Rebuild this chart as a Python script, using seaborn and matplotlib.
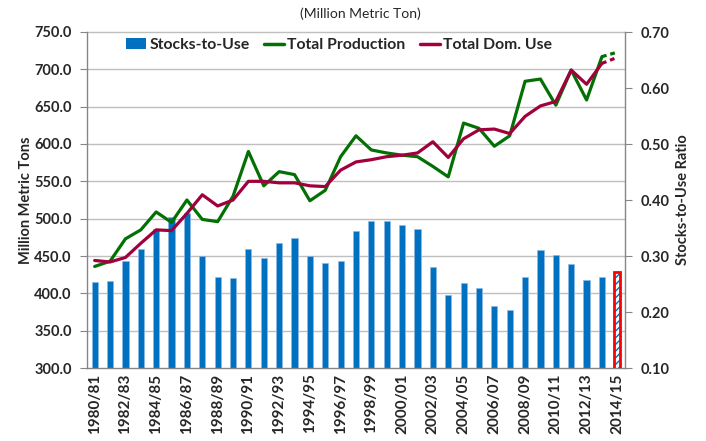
import matplotlib
matplotlib.use("Agg")
import matplotlib.pyplot as plt
import seaborn as sns
import numpy as np
from matplotlib.patches import Patch, Rectangle
from matplotlib.lines import Line2D

seasons = ["1980/81", "1981/82", "1982/83", "1983/84", "1984/85", "1985/86", "1986/87",
           "1987/88", "1988/89", "1989/90", "1990/91", "1991/92", "1992/93", "1993/94",
           "1994/95", "1995/96", "1996/97", "1997/98", "1998/99", "1999/00", "2000/01",
           "2001/02", "2002/03", "2003/04", "2004/05", "2005/06", "2006/07", "2007/08",
           "2008/09", "2009/10", "2010/11", "2011/12", "2012/13", "2013/14", "2014/15"]
stocks_to_use = [0.254, 0.255, 0.291, 0.312, 0.348, 0.369, 0.377, 0.300, 0.262, 0.260,
                 0.312, 0.296, 0.324, 0.333, 0.300, 0.287, 0.291, 0.344, 0.362, 0.362,
                 0.356, 0.348, 0.280, 0.230, 0.252, 0.243, 0.210, 0.203, 0.262, 0.311,
                 0.302, 0.285, 0.258, 0.263, 0.271]
production = [436, 443, 473, 485, 509, 495, 525, 499, 496, 530, 590, 544, 563, 559, 524,
              538, 583, 611, 592, 588, 585, 583, 570, 556, 628, 621, 597, 611, 684, 687,
              652, 699, 659, 717, 723]
domestic_use = [444, 442, 448, 467, 485, 484, 507, 532, 517, 525, 550, 550, 548, 548, 544,
                543, 565, 576, 579, 583, 585, 588, 603, 582, 607, 619, 620, 614, 637, 651,
                657, 699, 680, 708, 716]
left_ticks = [300, 350, 400, 450, 500, 550, 600, 650, 700, 750]
right_ticks = [0.10, 0.20, 0.30, 0.40, 0.50, 0.60, 0.70]

BLUE = "#0070C0"
GREEN = "#037003"
MAROON = "#A0003C"
GRID = "#BFBFBF"
SPINE = "#868686"

sns.set_style("white")
plt.rcParams["font.family"] = ["Lato", "DejaVu Sans"]

fig = plt.figure(figsize=(7.06, 4.41), dpi=100)
axb = fig.add_axes([87 / 706, 1 - 368 / 441, (625 - 87) / 706, 336 / 441])
axl = axb.twinx()

# gridlines (left-axis values) drawn on bar axes so bars cover them
lmin, lmax = left_ticks[0], left_ticks[-1]
rmin, rmax = right_ticks[0], right_ticks[-1]
def to_ratio(v):
    return rmin + (v - lmin) / (lmax - lmin) * (rmax - rmin)
for v in left_ticks[1:]:
    axb.axhline(to_ratio(v), color=GRID, lw=1.0, zorder=0, clip_on=False)

n = len(seasons)
sns.barplot(x=seasons, y=stocks_to_use, ax=axb, color=BLUE, width=0.4,
            saturation=1, edgecolor="#8DB8E2", linewidth=0.5, zorder=2)
last = axb.patches[-1]
last.set_facecolor("white")
last.set_edgecolor(BLUE)
last.set_hatch("/////")
last.set_linewidth(0)
axb.add_patch(Rectangle(last.get_xy(), last.get_width(), last.get_height(),
                        fill=False, edgecolor="#FF0000", lw=2.0, zorder=3))

idx = np.arange(n)
sns.lineplot(x=idx[:n - 1], y=production[:n - 1], ax=axl, color=GREEN, lw=2.3)
sns.lineplot(x=idx[n - 2:], y=production[n - 2:], ax=axl, color=GREEN, lw=2.3,
             linestyle=(0, (1.5, 1.2)))
sns.lineplot(x=idx[:n - 1], y=domestic_use[:n - 1], ax=axl, color=MAROON, lw=2.3)
sns.lineplot(x=idx[n - 2:], y=domestic_use[n - 2:], ax=axl, color=MAROON, lw=2.3,
             linestyle=(0, (1.5, 1.2)))

axb.set_ylim(rmin, rmax)
axl.set_ylim(lmin, lmax)
axb.set_xlim(-0.5, n - 0.5)

# axes sides
axb.yaxis.tick_right()
axb.yaxis.set_label_position("right")
axl.yaxis.tick_left()
axl.yaxis.set_label_position("left")

axb.set_yticks(right_ticks)
axb.set_yticklabels([f"{t:.2f}" for t in right_ticks], fontsize=10.5, fontweight="bold")
axl.set_yticks(left_ticks)
axl.set_yticklabels([f"{t:.1f}" for t in left_ticks], fontsize=10.5, fontweight="bold")

axb.set_xticks(idx[::2])
axb.set_xticklabels(seasons[::2], rotation=90, fontsize=11, fontweight="bold")
axb.set_xticks(np.arange(n + 1) - 0.5, minor=True)
axb.tick_params(axis="x", which="major", length=0, pad=4)
axb.tick_params(axis="x", which="minor", length=5, color=SPINE, width=0.8, direction="out")
axb.tick_params(axis="y", length=5, color=SPINE, width=0.8, direction="out", pad=6)
axl.tick_params(axis="y", length=5, color=SPINE, width=0.8, direction="out", pad=6)

axb.spines["top"].set_visible(False)
for s in ["left", "right", "bottom"]:
    axb.spines[s].set_color(SPINE)
    axb.spines[s].set_linewidth(1.0)
for s in axl.spines.values():
    s.set_visible(False)

axb.set_xlabel("")
axl.set_xlabel("")
axb.set_ylabel("Stocks-to-Use Ratio", fontsize=10.5, fontweight="bold", labelpad=5)
axl.set_ylabel("Million Metric Tons", fontsize=10.5, fontweight="bold", labelpad=1)
axb.grid(False)
axl.grid(False)

fig.text(360 / 706, 1 - 14 / 441, "(Million Metric Ton)", ha="center", va="center",
         fontsize=10)

handles = [Patch(facecolor=BLUE, edgecolor="none"),
           Line2D([0], [0], color=GREEN, lw=2.5),
           Line2D([0], [0], color=MAROON, lw=2.5)]
labels = ["Stocks-to-Use", "Total Production", "Total Dom. Use"]
leg = axl.legend(handles, labels, loc="center left", bbox_to_anchor=(0.0725, 0.961),
                 ncol=3, frameon=False, handlelength=1.3, handletextpad=0.2,
                 columnspacing=0.9, borderpad=0, borderaxespad=0,
                 prop={"weight": "bold", "size": 11.3})

fig.savefig("out.png", dpi=100)
